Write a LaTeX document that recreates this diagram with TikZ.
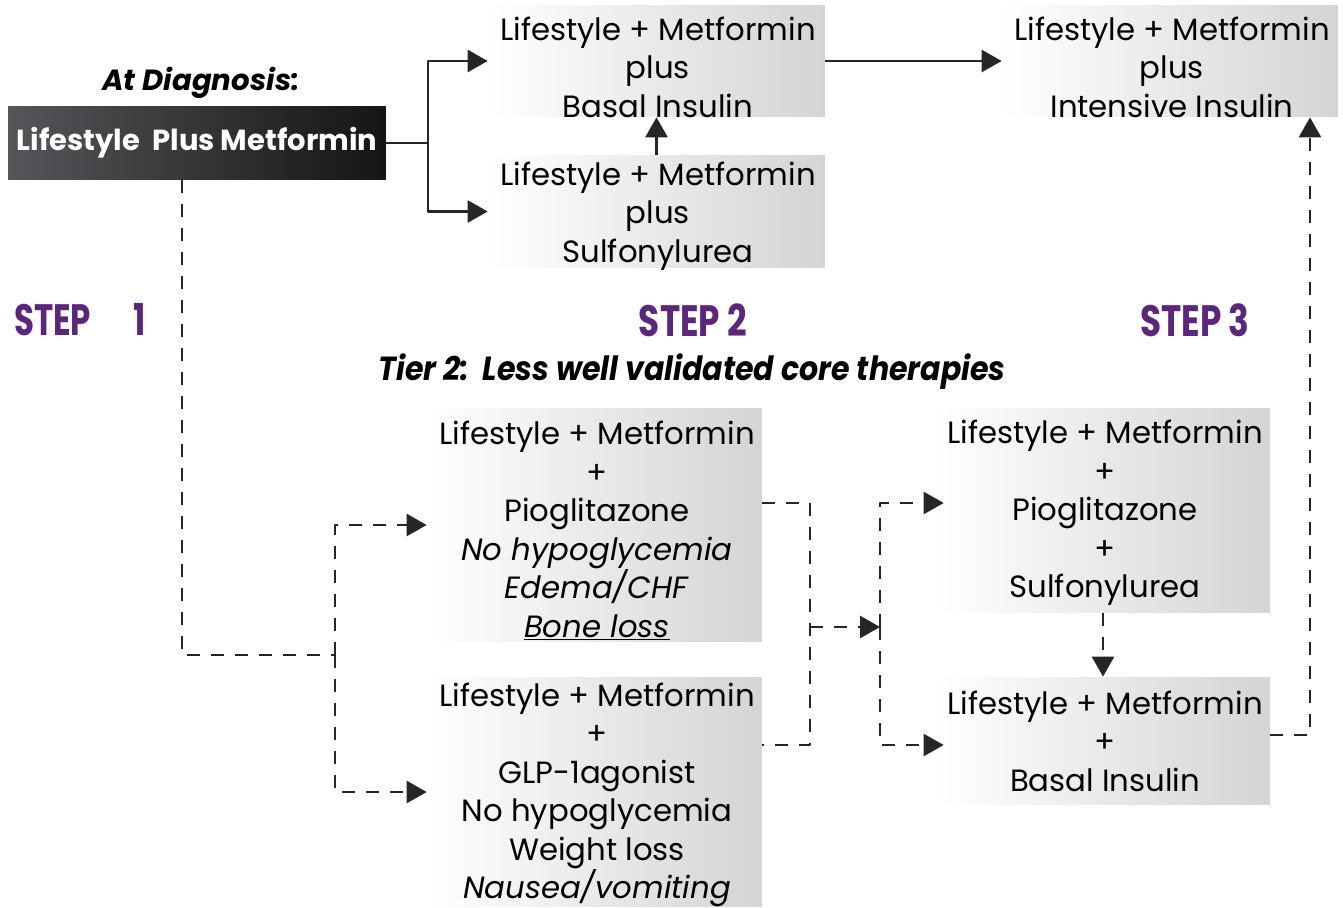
\documentclass[tikz,border=0pt]{standalone}
\usepackage{fontspec}
\setmainfont{Poppins}
\usetikzlibrary{arrows.meta}
\definecolor{stepPurple}{RGB}{92,38,126}
\definecolor{boxGray}{RGB}{212,212,214}
\definecolor{darkLeft}{RGB}{85,86,90}
\definecolor{darkRight}{RGB}{22,20,20}

\begin{document}
\begin{tikzpicture}[x=0.02cm, y=-0.02cm, line join=round, >={Triangle[length=0.4cm, width=0.44cm]},
	txt/.style={font=\fontsize{17.5}{21.9}\selectfont, align=center, inner sep=0pt},
	box/.style={inner sep=0pt, left color=white, right color=boxGray},
	darkbox/.style={align=center, inner sep=0pt, text=white, left color=darkLeft, right color=darkRight,
		font=\fontsize{16.5}{20}\selectfont\bfseries},
	flow/.style={line width=1.4pt, draw=black!85},
	dflow/.style={flow, dash pattern=on 0.26cm off 0.22cm},
	steplbl/.style={text=stepPurple, font=\fontsize{25}{28}\selectfont\bfseries},
	heading/.style={font=\fontsize{16.6}{20}\selectfont\bfseries\itshape}]
	\useasboundingbox (0, 0) rectangle (1343, 907);
	
	% step 1
	\node[heading] (diag) at (201, 83) {At Diagnosis:};
	\node[darkbox, minimum width=7.56cm, minimum height=1.48cm] (start) at (197, 143) {Lifestyle\ \ Plus Metformin};
	
	% step 2, tier 1
	\node[box, minimum width=6.74cm, minimum height=2.24cm] (basal) at (656.5, 61) {};
	\node[txt] (basal-t) at (658, 67) {Lifestyle + Metformin\\plus\\Basal Insulin};
	\node[box, minimum width=6.74cm, minimum height=2.26cm] (sulf) at (656.5, 211.5) {};
	\node[txt] (sulf-t) at (658, 216) {Lifestyle + Metformin\\plus\\Sulfonylurea};
	\node[box, minimum width=6.72cm, minimum height=2.24cm] (intens) at (1170, 61) {};
	\node[txt] (intens-t) at (1172, 67) {Lifestyle + Metformin\\plus\\Intensive Insulin};
	
	% labels
	\node[steplbl, anchor=west] (s1) at (8, 320) {\scalebox{0.74}[1]{STEP\hspace{1.3em}1}};
	\node[steplbl] (s2) at (693, 320) {\scalebox{0.78}[1]{STEP 2}};
	\node[steplbl] (s3) at (1195, 320) {\scalebox{0.78}[1]{STEP 3}};
	\node[heading, font=\fontsize{19}{22}\selectfont\bfseries\itshape] (tier) at (692, 372)
	{\scalebox{0.9}[1]{Tier 2:\ \ Less well validated core therapies}};
	
	% tier 2
	\node[box, minimum width=6.7cm, minimum height=4.68cm] (pio) at (594.5, 525) {};
	\node[txt] (pio-t) at (597, 531)
	{Lifestyle + Metformin\\+\\Pioglitazone\\\textit{No hypoglycemia}\\\textit{Edema/CHF}\\\underline{\textit{Bone loss}}};
	\node[box, minimum width=6.7cm, minimum height=4.6cm] (glp) at (594.5, 792) {};
	\node[txt] (glp-t) at (597, 795)
	{Lifestyle + Metformin\\+\\GLP-1agonist\\No hypoglycemia\\Weight loss\\\textit{Nausea/vomiting}};
	\node[box, minimum width=6.68cm, minimum height=4.1cm] (piosu) at (1103, 510.5) {};
	\node[txt] (piosu-t) at (1105, 513) {Lifestyle + Metformin\\+\\Pioglitazone\\+\\Sulfonylurea};
	\node[box, minimum width=6.68cm, minimum height=2.56cm] (basal2) at (1103, 741) {};
	\node[txt] (basal2-t) at (1105, 741) {Lifestyle + Metformin\\+\\Basal Insulin};
	
	% solid connectors
	\coordinate (j1) at (428, 143);
	\draw[flow] (start.east) -- (j1);
	\draw[flow, ->] (j1) |- (basal.west);
	\draw[flow, ->] (j1) |- (sulf.west);
	\draw[flow, ->] (sulf.north) -- (basal.south);
	\draw[flow, ->] (basal.east) -- (intens.west);
	
	% dashed connectors
	\coordinate (d1) at (182, 655);
	\coordinate (j2) at (335, 655);
	\draw[dflow] (start.south -| d1) -- (d1) -- (j2);
	\draw[dflow, ->] (j2) |- (pio.west);
	\draw[dflow, ->] (j2) |- (glp.west);
	\coordinate (m1) at (810, 503);
	\coordinate (m2) at (810, 745);
	\coordinate (m3) at (810, 627);
	\coordinate (n1) at (880, 503);
	\coordinate (n2) at (880, 745);
	\coordinate (n3) at (880, 627);
	\draw[dflow] (pio.east |- m1) -- (m1) -- (m2) -- (glp.east |- m2);
	\draw[dflow, ->] (m3) -- (n3);
	\draw[dflow, ->, shorten >=-0.16cm] (n3) -- (n1) -- (piosu.west |- n1);
	\draw[dflow, ->, shorten >=-0.16cm] (n3) -- (n2) -- (basal2.west |- n2);
	\draw[dflow, ->] (piosu.south) -- (basal2.north);
	\coordinate (r1) at (1310, 735);
	\draw[dflow, ->] (basal2.east |- r1) -- (r1) -- (intens.south -| r1);
\end{tikzpicture}
\end{document}
